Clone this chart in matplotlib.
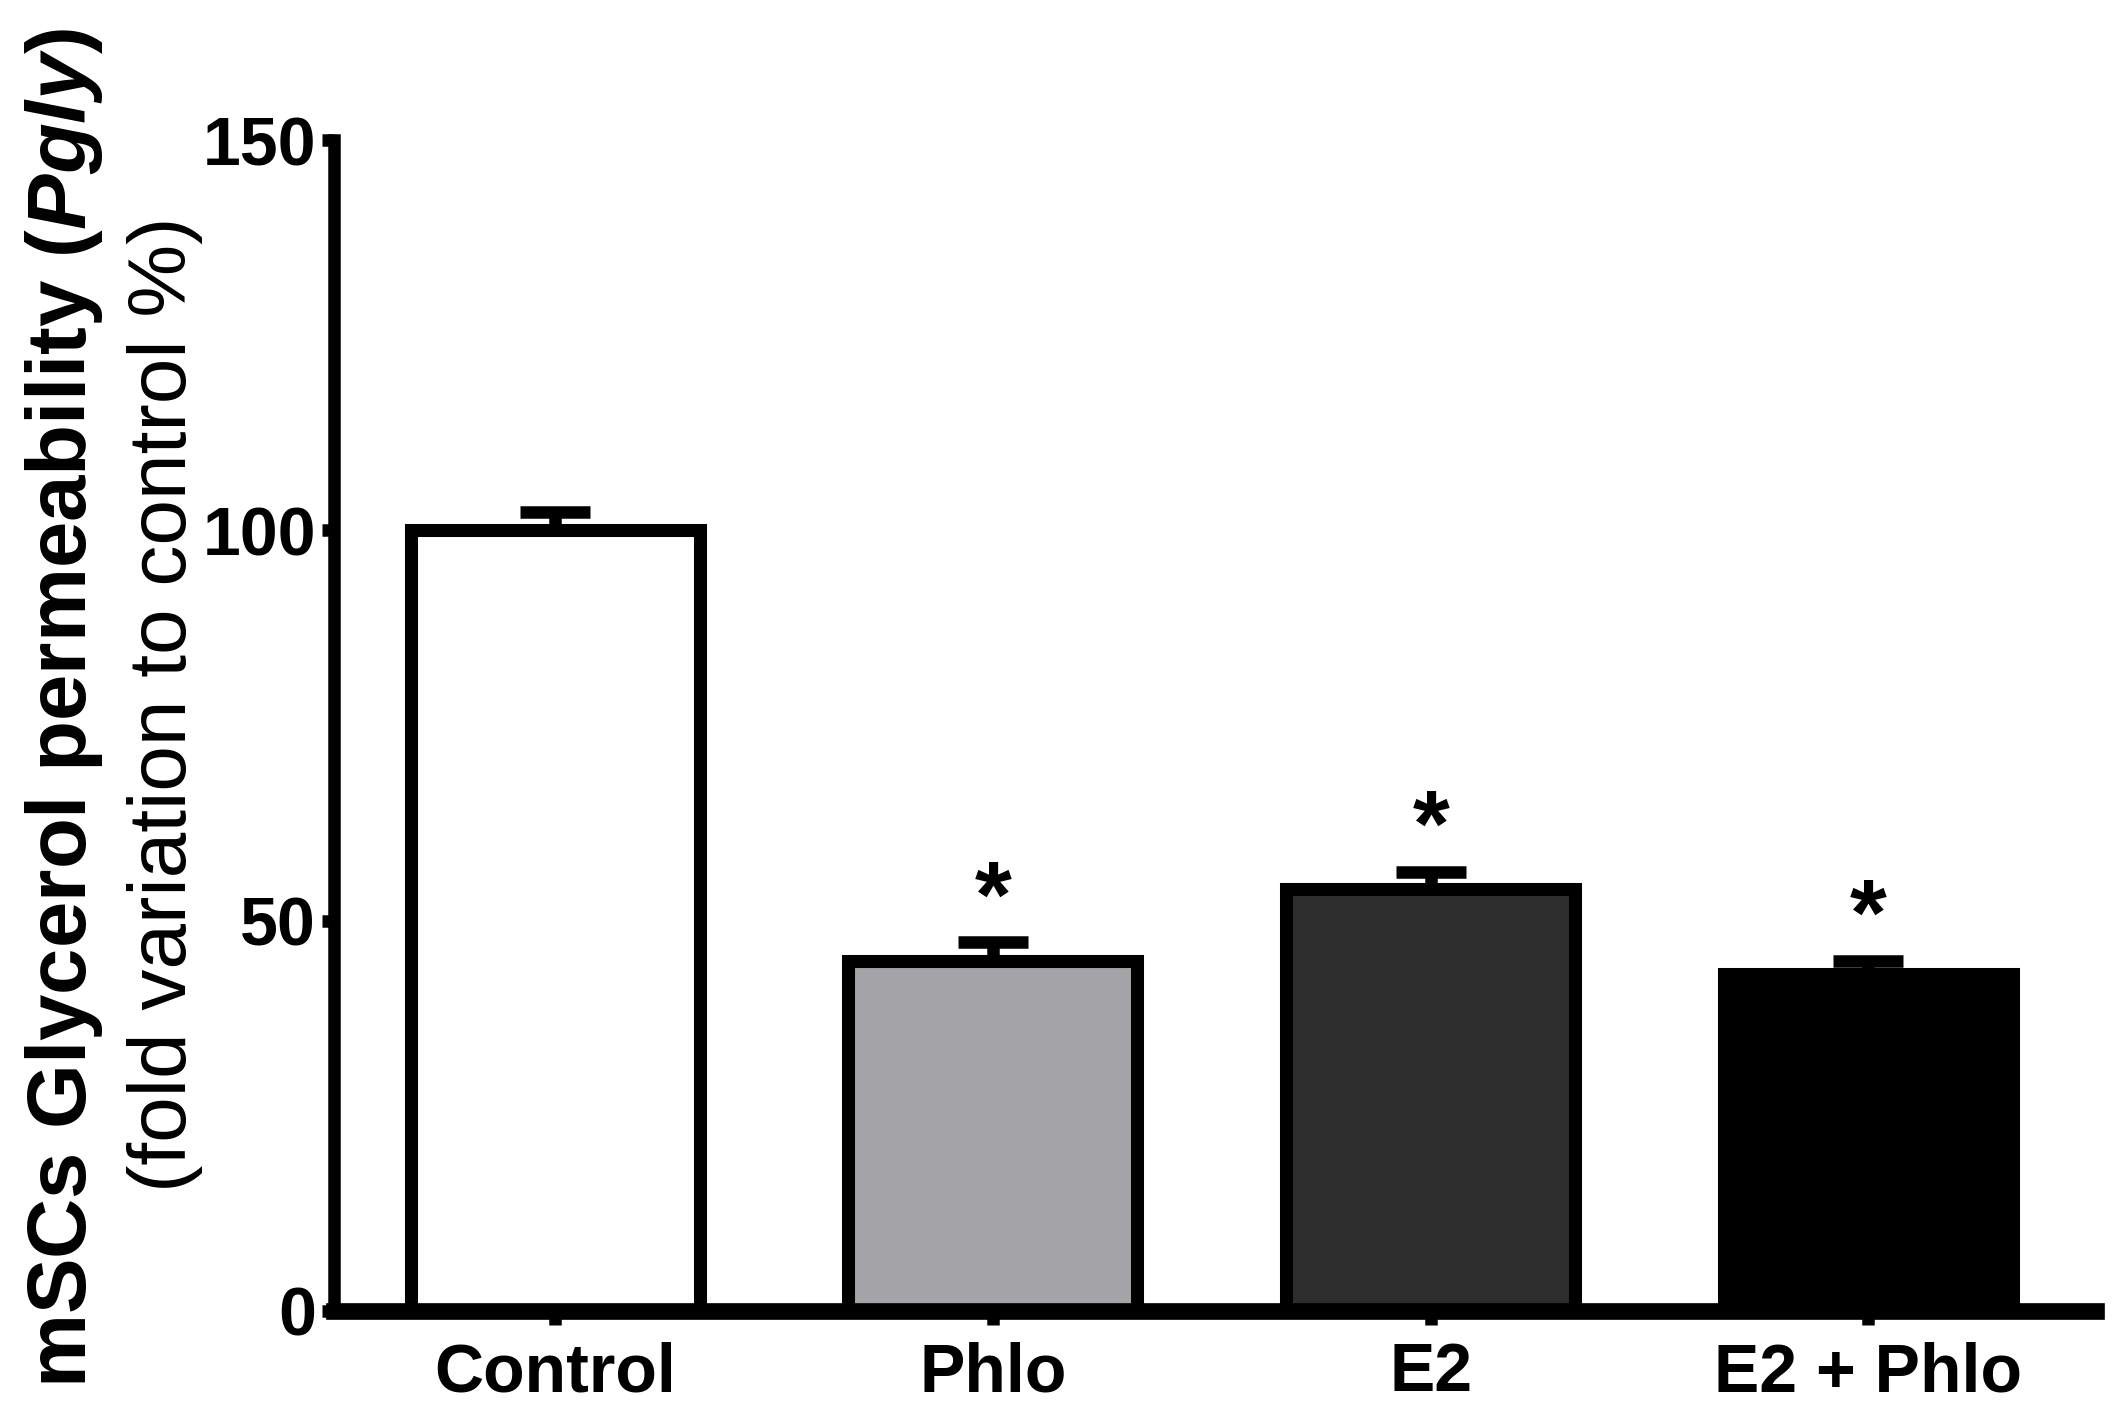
import matplotlib
matplotlib.use('Agg')
import matplotlib.pyplot as plt
import numpy as np

plt.rcParams['font.family'] = ['Liberation Sans', 'DejaVu Sans']
plt.rcParams['font.weight'] = 'bold'
plt.rcParams['mathtext.fontset'] = 'custom'
plt.rcParams['mathtext.rm'] = 'Liberation Sans:bold'
plt.rcParams['mathtext.it'] = 'Liberation Sans:bold:italic'

# values
groups = ['Control', 'Phlo', 'E2', 'E2 + Phlo']
means = [100.0, 44.8, 54.0, 43.1]
sem = [2.4, 2.4, 2.2, 1.7]
signif = ['', '*', '*', '*']
colours = ['#ffffff', '#a4a3a8', '#2d2d2d', '#000000']

fig = plt.figure(figsize=(21.28, 14.16), dpi=100)
ax = fig.add_axes([0.157, 0.0742, 0.828, 0.8269])

x = np.arange(len(groups))
ax.errorbar(x, means, yerr=[np.zeros(len(sem)), sem], fmt='none',
            ecolor='black', elinewidth=9, capsize=25, capthick=9, zorder=1)
ax.bar(x, means, width=0.66, color=colours, edgecolor='black',
       linewidth=9.4, zorder=2)

for xi, m, e, s in zip(x, means, sem, signif):
    if s:
        ax.text(xi, m + e + 5.2, s, ha='center', va='center',
                fontsize=68, fontweight='bold')

ax.set_xlim(-0.505, 3.52)
ax.set_ylim(0, 150)
ax.set_yticks([0, 50, 100, 150])
ax.set_xticks(x)
ax.set_xticklabels(groups)

for side in ['top', 'right']:
    ax.spines[side].set_visible(False)
ax.spines['left'].set_linewidth(9)
ax.spines['bottom'].set_linewidth(12)
ax.spines['left'].set_zorder(3)
ax.spines['bottom'].set_zorder(3)

ax.tick_params(axis='y', length=9, width=9, labelsize=49, pad=4)
ax.tick_params(axis='x', length=10, width=9, labelsize=49, pad=12)
for lab in ax.get_xticklabels() + ax.get_yticklabels():
    lab.set_fontweight('bold')

fig.text(0.030, 0.50, r'mSCs Glycerol permeability ($Pgly$)', rotation=90,
         ha='center', va='center', fontsize=60, fontweight='bold')
fig.text(0.0776, 0.503, '(fold variation to control %)', rotation=90,
         ha='center', va='center', fontsize=59, fontweight='normal')

fig.savefig('out.png', dpi=100)
